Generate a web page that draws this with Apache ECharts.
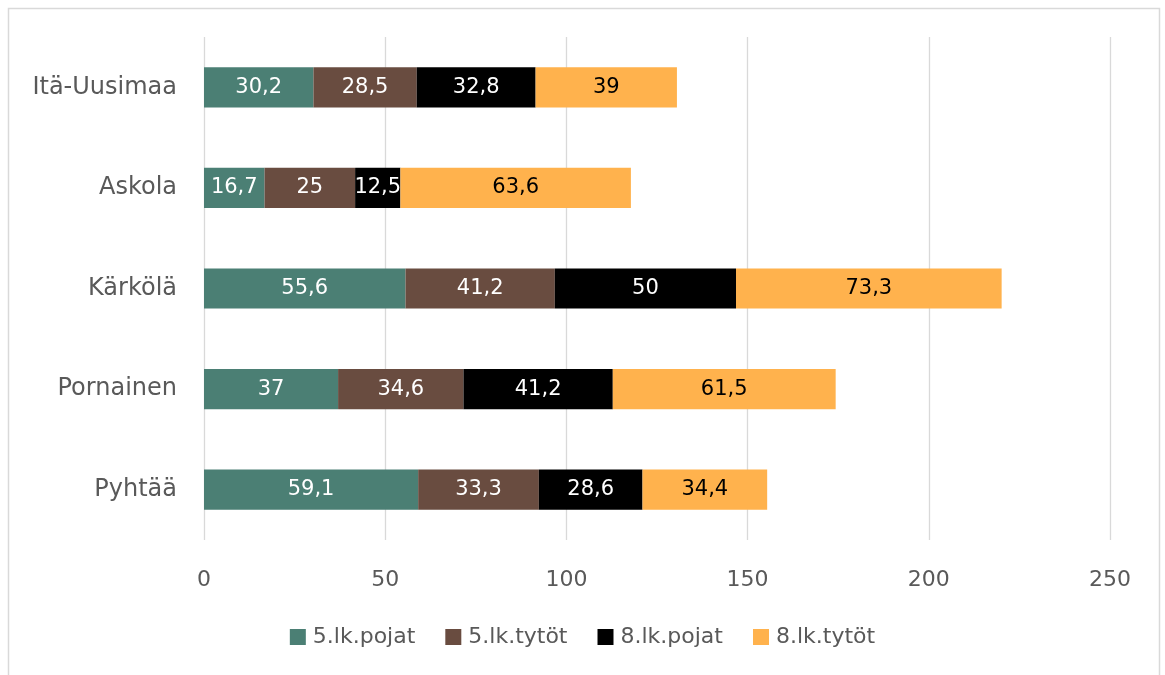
<!DOCTYPE html>
<html>
<head>
<meta charset="utf-8">
<script src="https://cdn.jsdelivr.net/npm/echarts@6/dist/echarts.min.js"></script>
<style>
html,body{margin:0;padding:0;background:#fff;}
#c{width:1165px;height:675px;}
</style>
</head>
<body>
<div id="c"></div>
<script>
const categories = ['Itä-Uusimaa', 'Askola', 'Kärkölä', 'Pornainen', 'Pyhtää'];
const seriesNames = ['5.lk.pojat', '5.lk.tytöt', '8.lk.pojat', '8.lk.tytöt'];
const pojat5 = [30.2, 16.7, 55.6, 37, 59.1];
const tytot5 = [28.5, 25, 41.2, 34.6, 33.3];
const pojat8 = [32.8, 12.5, 50, 41.2, 28.6];
const tytot8 = [39, 63.6, 73.3, 61.5, 34.4];
const xTicks = [0, 50, 100, 150, 200, 250];

const colors = ['#4b7f74', '#694c40', '#000000', '#ffb24d'];
const labelColors = ['#ffffff', '#ffffff', '#ffffff', '#000000'];
const values = [pojat5, tytot5, pojat8, tytot8];
const FONT = "'DejaVu Sans', sans-serif";

const chart = echarts.init(document.getElementById('c'));
chart.setOption({
  animation: false,
  textStyle: { fontFamily: FONT },
  graphic: [{
    type: 'rect', silent: true, z: -10,
    shape: { x: 8.5, y: 8.5, width: 1151, height: 700 },
    style: { fill: 'none', stroke: '#d9d9d9', lineWidth: 1.5 }
  }],
  grid: { left: 204, right: 55, top: 37, bottom: 135, containLabel: false },
  xAxis: {
    type: 'value', min: xTicks[0], max: xTicks[xTicks.length - 1], interval: 50,
    axisLine: { show: false }, axisTick: { show: false },
    splitLine: { lineStyle: { color: '#d9d9d9', width: 1.3 } },
    axisLabel: { color: '#595959', fontSize: 22, fontFamily: FONT, margin: 29 }
  },
  yAxis: {
    type: 'category', data: categories, inverse: true,
    axisLine: { show: false }, axisTick: { show: false },
    axisLabel: { color: '#595959', fontSize: 24, fontFamily: FONT, margin: 27 }
  },
  legend: {
    bottom: 22, left: 'center', itemWidth: 16, itemHeight: 16, itemGap: 30,
    icon: 'rect',
    textStyle: { color: '#595959', fontSize: 22, fontFamily: FONT, padding: [0, 0, 0, 2] },
    data: seriesNames
  },
  series: seriesNames.map((n, i) => ({
    name: n, type: 'bar', stack: 'total', barWidth: '40%',
    data: values[i],
    itemStyle: { color: colors[i] },
    label: {
      show: true, position: 'inside', color: labelColors[i],
      fontSize: 21, fontFamily: FONT,
      formatter: p => String(p.value).replace('.', ',')
    }
  }))
});
</script>
</body>
</html>
